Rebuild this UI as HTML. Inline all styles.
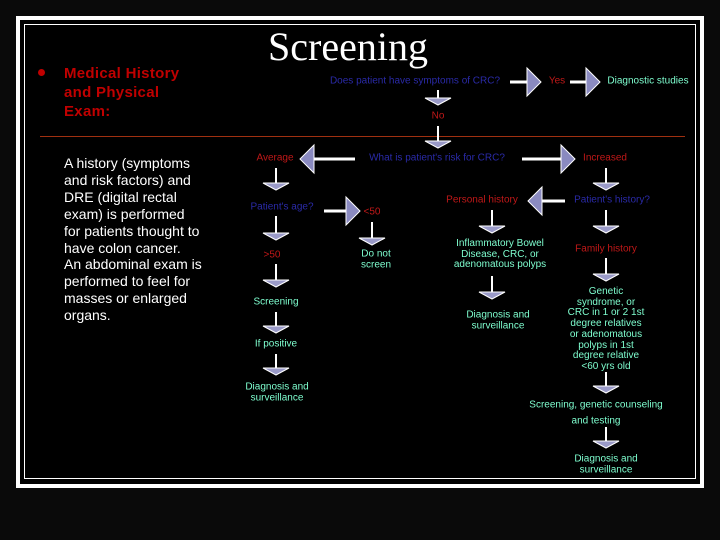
<!DOCTYPE html>
<html><head><meta charset="utf-8"><style>
html,body{margin:0;padding:0;background:#0a0a0a;}
#c{position:relative;width:720px;height:540px;overflow:hidden;background:#0a0a0a;font-family:"Liberation Sans",sans-serif;}
.t{position:absolute;white-space:nowrap;font-size:10px;text-align:center;transform:translate(-50%,-50%);line-height:10.7px;}
.b{color:#2a2aa8}.r{color:#c01818}.g{color:#7fffd0}
</style></head><body><div id="c">
<div style="position:absolute;left:16px;top:16px;width:680px;height:464px;border:4px solid #fff;background:#000"></div>
<div style="position:absolute;left:24px;top:24px;width:670px;height:453px;border:1px solid #fff;"></div>
<div style="position:absolute;left:40px;top:136px;width:645px;height:1px;background:#a03010"></div>
<div style="position:absolute;left:38px;top:69px;width:7px;height:7px;border-radius:50%;background:#c00000"></div>
<div style="position:absolute;left:64px;top:64px;font-size:15px;line-height:19px;color:#c00000;font-weight:bold;letter-spacing:0.3px">Medical History<br>and Physical<br>Exam:</div>
<div style="position:absolute;left:64px;top:155px;font-size:14px;line-height:16.9px;color:#fff">A history (symptoms<br>and risk factors) and<br>DRE (digital rectal<br>exam) is performed<br>for patients thought to<br>have colon cancer.<br>An abdominal exam is<br>performed to feel for<br>masses or enlarged<br>organs.</div>
<div style="position:absolute;left:268px;top:25px;font-family:'Liberation Serif',serif;font-size:40px;line-height:44px;color:#fff">Screening</div>
<svg id="s" width="720" height="540" style="position:absolute;left:0;top:0"></svg>
<div class="t b" style="left:415px;top:82px">Does patient have symptoms of CRC?</div>
<div class="t r" style="left:557px;top:82px">Yes</div>
<div class="t g" style="left:648px;top:82px">Diagnostic studies</div>
<div class="t r" style="left:438px;top:117px">No</div>
<div class="t b" style="left:437px;top:159px">What is patient's risk for CRC?</div>
<div class="t r" style="left:275px;top:159px">Average</div>
<div class="t r" style="left:605px;top:159px">Increased</div>
<div class="t b" style="left:282px;top:208px">Patient's age?</div>
<div class="t r" style="left:372px;top:213px">&lt;50</div>
<div class="t g" style="left:376px;top:260px">Do not<br>screen</div>
<div class="t r" style="left:272px;top:256px">&gt;50</div>
<div class="t g" style="left:276px;top:303px">Screening</div>
<div class="t g" style="left:276px;top:345px">If positive</div>
<div class="t g" style="left:277px;top:393px">Diagnosis and<br>surveillance</div>
<div class="t b" style="left:612px;top:201px">Patient's history?</div>
<div class="t r" style="left:482px;top:201px">Personal history</div>
<div class="t g" style="left:500px;top:255px">Inflammatory Bowel<br>Disease, CRC, or<br>adenomatous polyps</div>
<div class="t g" style="left:498px;top:321px">Diagnosis and<br>surveillance</div>
<div class="t r" style="left:606px;top:250px">Family history</div>
<div class="t g" style="left:606px;top:330px">Genetic<br>syndrome, or<br>CRC in 1 or 2 1st<br>degree relatives<br>or adenomatous<br>polyps in 1st<br>degree relative<br>&lt;60 yrs old</div>
<div class="t g" style="left:596px;top:406px">Screening, genetic counseling</div>
<div class="t g" style="left:596px;top:422px">and testing</div>
<div class="t g" style="left:606px;top:465px">Diagnosis and<br>surveillance</div>
</div>
<script>
var s=document.getElementById('s'),h='';
function dn(x,y1,y2){h+='<line x1="'+x+'" y1="'+y1+'" x2="'+x+'" y2="'+(y2-5)+'" stroke="#fff" stroke-width="2"/>'+
'<polygon points="'+(x-13)+','+(y2-7)+' '+(x+13)+','+(y2-7)+' '+x+','+y2+'" fill="#9a9ac8" stroke="#fff" stroke-width="1"/>';}
function hr(x1,x2,y){var d=x2>x1?1:-1;var b=x2-d*14;
h+='<line x1="'+x1+'" y1="'+y+'" x2="'+b+'" y2="'+y+'" stroke="#fff" stroke-width="3"/>'+
'<polygon points="'+b+','+(y-14)+' '+b+','+(y+14)+' '+x2+','+y+'" fill="#8a8ac0" stroke="#fff" stroke-width="1"/>';}
hr(510,541,82);hr(570,600,82);dn(438,90,105);dn(438,126,148);
hr(355,300,159);hr(522,575,159);
dn(276,168,190);hr(324,360,211);dn(372,222,245);dn(276,216,240);dn(276,264,287);dn(276,312,333);dn(276,354,375);
dn(606,168,190);hr(565,528,201);dn(492,210,233);dn(492,276,299);dn(606,210,233);dn(606,258,281);dn(606,372,393);dn(606,427,448);
s.innerHTML=h;
</script>
</body></html>
